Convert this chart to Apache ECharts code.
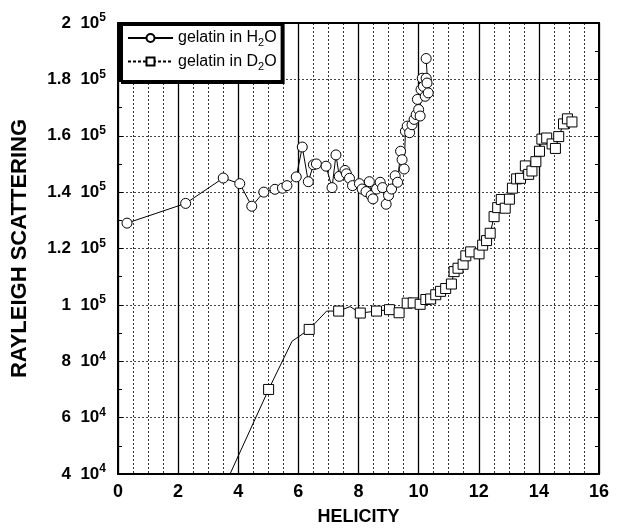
<!DOCTYPE html>
<html>
<head>
<meta charset="utf-8">
<script src="https://cdn.jsdelivr.net/npm/echarts@6/dist/echarts.min.js"></script>
<style>html,body{margin:0;padding:0;background:#fff}#c{width:623px;height:531px}</style>
</head>
<body>
<div id="c"></div>
<script>
var seriesNames = ['gelatin in H{sub|2}O', 'gelatin in D{sub|2}O'];
var h2oHelicity = [0.3, 2.25, 3.5, 4.05, 4.45, 4.85, 5.22, 5.47, 5.62, 5.93, 6.13, 6.33, 6.5, 6.6, 6.92, 7.12, 7.25, 7.36, 7.55, 7.6, 7.7, 7.8, 8.03, 8.12, 8.25, 8.36, 8.42, 8.48, 8.6, 8.72, 8.8, 8.92, 9.0, 9.1, 9.22, 9.3, 9.4, 9.45, 9.52, 9.56, 9.62, 9.7, 9.78, 9.85, 9.92, 9.96, 10.0, 10.05, 10.08, 10.12, 10.16, 10.22, 10.25, 10.28, 10.32, 10.25];
var h2oValues = [129000, 136000, 145000, 143000, 135000, 140000, 141000, 141400, 142300, 145400, 156000, 143700, 149700, 150000, 149200, 141600, 153200, 145600, 147700, 146500, 144900, 142300, 143000, 141100, 140200, 143700, 138800, 137600, 141100, 143500, 141600, 135700, 138800, 141100, 145800, 143500, 154500, 151500, 148200, 161600, 163400, 161100, 163900, 165800, 167500, 172900, 169300, 167000, 176400, 180400, 177500, 174000, 180400, 178700, 175200, 187400];
var d2oHelicity = [3.0, 5.01, 5.79, 6.36, 6.94, 7.34, 7.72, 8.06, 8.6, 9.03, 9.35, 9.62, 9.82, 10.05, 10.24, 10.4, 10.57, 10.73, 10.9, 11.09, 11.18, 11.31, 11.48, 11.57, 11.73, 12.01, 12.13, 12.26, 12.38, 12.51, 12.63, 12.75, 12.88, 13.02, 13.12, 13.26, 13.39, 13.55, 13.66, 13.77, 13.9, 14.02, 14.1, 14.26, 14.44, 14.55, 14.66, 14.82, 14.95, 15.1];
var d2oValues = [23000, 70000, 87100, 91300, 97800, 97800, 99400, 97100, 97800, 98300, 97200, 100600, 100700, 100200, 101900, 102100, 103600, 104800, 105800, 107400, 111800, 113000, 114400, 117400, 118800, 118100, 121200, 122800, 125400, 131300, 134500, 137400, 134300, 137500, 141400, 144700, 144900, 149300, 146300, 147500, 150800, 154500, 158800, 159200, 157100, 155500, 159700, 164200, 166000, 164900];
var d2oNoMarker = [2, 4, 6];
var yTickValues = [40000, 60000, 80000, 100000, 120000, 140000, 160000, 180000, 200000];
var yTickMantissa = ['4', '6', '8', '1', '1.2', '1.4', '1.6', '1.8', '2'];
var yTickExponent = ['4', '4', '4', '5', '5', '5', '5', '5', '5'];
var xTickLabels = ['0', '2', '4', '6', '8', '10', '12', '14', '16'];
var xName = 'HELICITY';
var yName = 'RAYLEIGH SCATTERING';

var FONT = 'Liberation Sans';
var chart = echarts.init(document.getElementById('c'), null, {renderer: 'canvas'});

var h2oData = h2oHelicity.map(function (h, i) { return [h, h2oValues[i]]; });
var d2oData = d2oHelicity.map(function (h, i) {
  var item = {value: [h, d2oValues[i]]};
  if (d2oNoMarker.indexOf(i) >= 0) { item.symbol = 'none'; }
  return item;
});

var xAxisBase = {
  type: 'value', min: 0, max: 16, interval: 2,
  axisLine: {show: true, onZero: false, lineStyle: {color: '#000', width: 2}},
  axisTick: {show: false},
  minorTick: {show: false, splitNumber: 4},
  splitLine: {show: true, lineStyle: {color: '#000', width: 1.3}},
  minorSplitLine: {show: true, lineStyle: {color: '#333', width: 1, type: [2, 2]}}
};
var yAxisBase = {
  type: 'value', min: 40000, max: 200000, interval: 20000,
  axisLine: {show: true, onZero: false, lineStyle: {color: '#000', width: 2}},
  axisTick: {show: true, inside: true, length: 5, lineStyle: {color: '#000'}},
  minorTick: {show: true, splitNumber: 2, length: 4, lineStyle: {color: '#000'}},
  splitLine: {show: true, lineStyle: {color: '#444', width: 1, type: [2, 2]}}
};

chart.setOption({
  animation: false,
  backgroundColor: '#fff',
  grid: {left: 118, right: 24, top: 23, bottom: 54, containLabel: false},
  legend: {
    orient: 'vertical', left: 120, top: 23,
    backgroundColor: '#fff', borderColor: '#000', borderWidth: 2, borderRadius: 0,
    shadowColor: '#000', shadowBlur: 0, shadowOffsetX: 2, shadowOffsetY: 2,
    padding: [7, 5, 9, 7], itemGap: 5, itemWidth: 45, itemHeight: 10,
    textStyle: {fontFamily: FONT, fontSize: 16, color: '#000',
      rich: {sub: {fontFamily: FONT, fontSize: 11, padding: [10, 0, 0, 0]}}},
    data: [
      {name: seriesNames[0]},
      {name: seriesNames[1], lineStyle: {type: [3, 2]}}
    ]
  },
  xAxis: [
    Object.assign({}, xAxisBase, {
      position: 'bottom',
      name: xName, nameLocation: 'middle', nameGap: 34,
      nameTextStyle: {fontFamily: FONT, fontSize: 18, color: '#000', fontWeight: 'bold'},
      axisLabel: {show: true, margin: 9, fontFamily: FONT, fontSize: 18, fontWeight: 'bold', color: '#000',
        formatter: function (v) { return xTickLabels[Math.round(v / 2)]; }}
    }),
    Object.assign({}, xAxisBase, {
      position: 'top', axisLabel: {show: false}, splitLine: {show: false}, minorSplitLine: {show: false}
    })
  ],
  yAxis: [
    Object.assign({}, yAxisBase, {
      position: 'left',
      name: yName, nameLocation: 'middle', nameGap: 87, nameRotate: 90,
      nameTextStyle: {fontFamily: FONT, fontSize: 22, color: '#000', fontWeight: 'bold'},
      axisLabel: {show: true, margin: 12, fontFamily: FONT, fontSize: 17, fontWeight: 'bold', color: '#000',
        formatter: function (v) {
          var i = yTickValues.indexOf(Math.round(v));
          if (i < 0) return '';
          return yTickMantissa[i] + '  10{sup|' + yTickExponent[i] + '}';
        },
        rich: {sup: {fontFamily: FONT, fontSize: 12, fontWeight: 'bold', color: '#000', padding: [0, 0, 10, 0]}}
      }
    }),
    Object.assign({}, yAxisBase, {
      position: 'right', axisLabel: {show: false}, splitLine: {show: false}
    })
  ],
  series: [
    {
      name: seriesNames[0], type: 'line', data: h2oData, clip: true,
      symbol: 'circle', symbolSize: 10, showAllSymbol: true,
      lineStyle: {color: '#000', width: 1},
      itemStyle: {color: '#fff', borderColor: '#000', borderWidth: 1}
    },
    {
      name: seriesNames[1], type: 'line', data: d2oData, clip: true,
      symbol: 'rect', symbolSize: 10, showAllSymbol: true,
      lineStyle: {color: '#000', width: 1},
      itemStyle: {color: '#fff', borderColor: '#000', borderWidth: 1}
    }
  ]
});
</script>
</body>
</html>
